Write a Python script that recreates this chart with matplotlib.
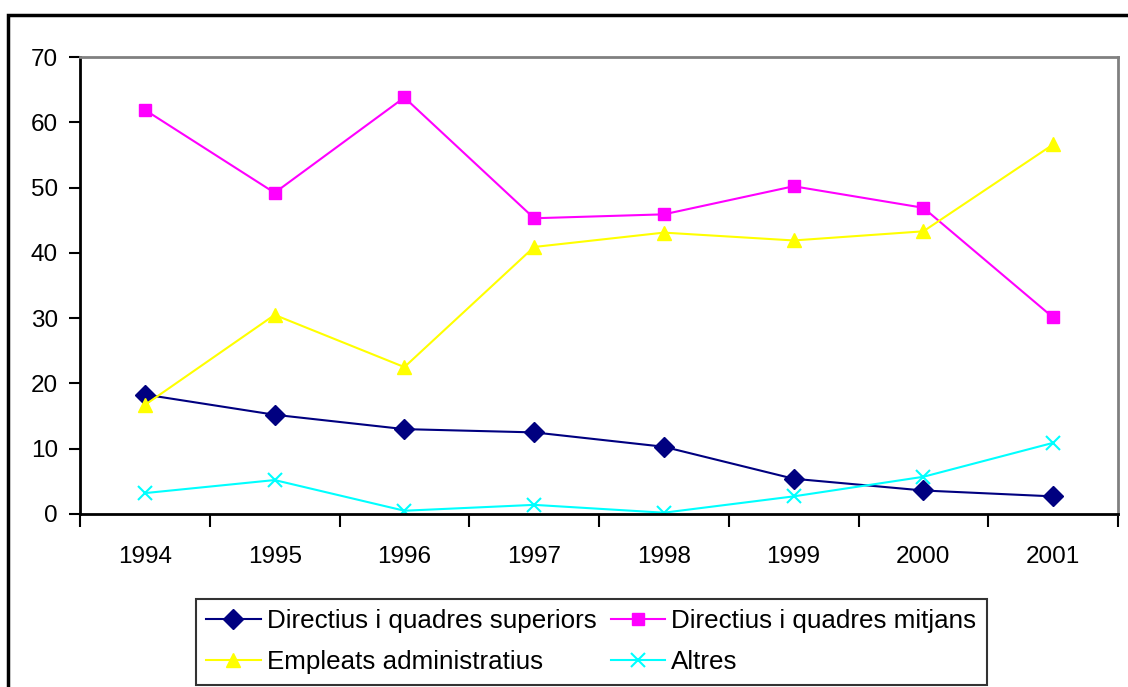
import matplotlib
matplotlib.use('Agg')
import matplotlib.pyplot as plt
from matplotlib.patches import Rectangle
import numpy as np

plt.rcParams['font.family'] = ['Liberation Sans', 'DejaVu Sans']

years = ['1994', '1995', '1996', '1997', '1998', '1999', '2000', '2001']
superiors = [18.3, 15.2, 13.0, 12.5, 10.3, 5.4, 3.6, 2.7]
mitjans = [61.9, 49.2, 63.8, 45.3, 45.9, 50.2, 46.9, 30.1]
administratius = [16.7, 30.5, 22.5, 40.9, 43.1, 41.9, 43.3, 56.6]
altres = [3.2, 5.2, 0.5, 1.4, 0.2, 2.7, 5.7, 10.9]

x = np.arange(len(years))

fig = plt.figure(figsize=(11.28, 6.87), dpi=100)
# plot area: x 80..1118 px, y 57..514 px
ax = fig.add_axes([80 / 1128, 1 - 514 / 687, (1118 - 80) / 1128, (514 - 57) / 687])

l1, = ax.plot(x, superiors, color='#000080', marker='D', markersize=10, lw=1.5,
              label='Directius i quadres superiors')
l2, = ax.plot(x, mitjans, color='#FF00FF', marker='s', markersize=8.5, lw=1.5,
              label='Directius i quadres mitjans')
l3, = ax.plot(x, administratius, color='#FFFF00', marker='^', markersize=10, lw=1.5,
              label='Empleats administratius')
l4, = ax.plot(x, altres, color='#00FFFF', marker='x', markersize=9.5, mew=1.5, lw=1.5,
              label='Altres')

ax.set_xlim(-0.5, 7.5)
ax.set_ylim(0, 70)
ax.set_yticks(range(0, 71, 10))
ax.set_xticks(np.arange(-0.5, 8, 1))
ax.set_xticklabels([])
ax.set_xticks(x, minor=True)
ax.set_xticklabels(years, minor=True)
ax.tick_params(axis='x', which='minor', length=0, pad=23, labelsize=17.5)
ax.tick_params(axis='x', which='major', length=9, width=1.5, direction='out')
ax.tick_params(axis='y', length=8, width=1.5, direction='out', labelsize=17.5, pad=8)

for s in ['top', 'right']:
    ax.spines[s].set_color('#808080')
    ax.spines[s].set_linewidth(2)
for s in ['left', 'bottom']:
    ax.spines[s].set_color('black')
    ax.spines[s].set_linewidth(2)

leg = fig.legend(handles=[l1, l3, l2, l4], ncol=2, loc='upper left',
                 bbox_to_anchor=(195.7 / 1128, 1 - 599 / 687), fontsize=18.7,
                 frameon=True, fancybox=False, edgecolor='black',
                 handlelength=2.1, handletextpad=0.23, columnspacing=0.55,
                 labelspacing=0.65, borderpad=0.4, borderaxespad=0)
leg.get_frame().set_linewidth(1.5)

top = 1 - 14.7 / 687
fig.patches.append(Rectangle((8 / 1128, -0.01), 1.2, top + 0.01,
                             transform=fig.transFigure, fill=False,
                             edgecolor='black', linewidth=2.5))

fig.savefig('out.png', dpi=100)
